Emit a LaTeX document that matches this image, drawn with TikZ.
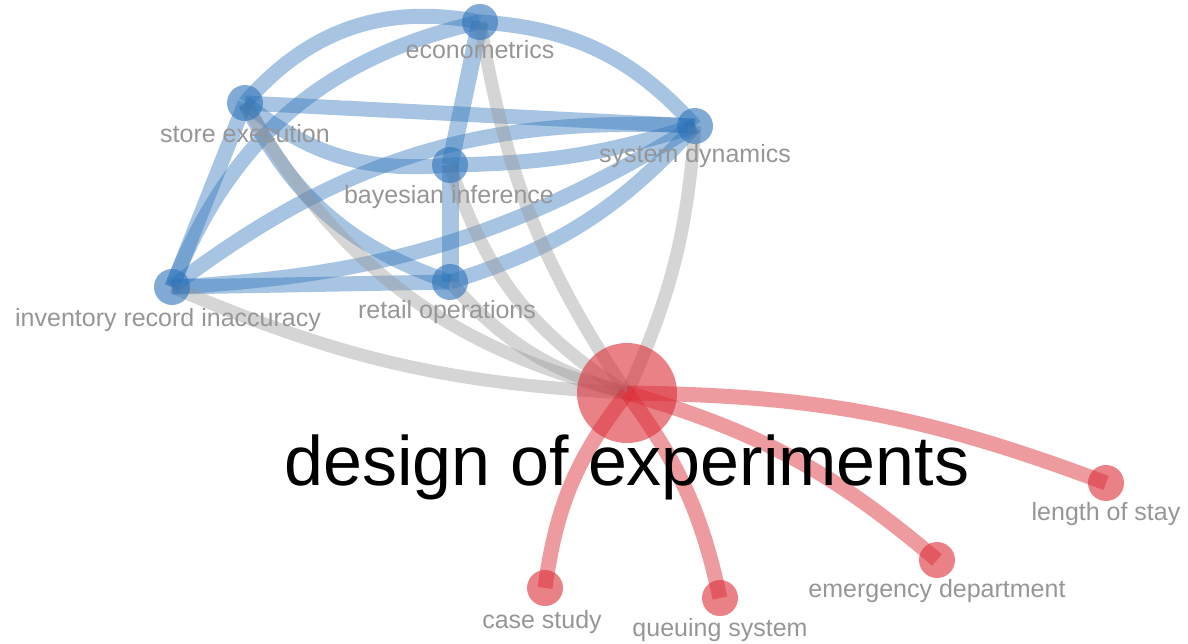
\documentclass[tikz,border=0pt]{standalone}
\usepackage{fontspec}
\setmainfont{Liberation Sans}
\usetikzlibrary{backgrounds}

\definecolor{vosblue}{RGB}{45,115,185}
\definecolor{vosred}{RGB}{220,45,55}
\definecolor{vosgray}{RGB}{150,150,150}
\definecolor{labgray}{RGB}{150,150,150}

\begin{document}
\begin{tikzpicture}[x=1pt,y=-1pt,
  term/.style={circle,fill=#1,fill opacity=0.6,inner sep=0pt,minimum size=36pt},
  hub/.style={circle,fill=vosred,fill opacity=0.6,inner sep=0pt,minimum size=100pt},
  lab/.style={text=labgray,font=\fontsize{25}{25}\selectfont,anchor=base},
  blink/.style={draw=vosblue,draw opacity=0.42,line width=15pt},
  glink/.style={draw=vosgray,draw opacity=0.4,line width=13pt},
  rlink/.style={draw=vosred,draw opacity=0.48,line width=15pt}]
\useasboundingbox (0,0) rectangle (1188,643);

% blue cluster
\node[term=vosblue] (eco) at (480,22) {};
\node[term=vosblue] (sto) at (245,103) {};
\node[term=vosblue] (sys) at (695,126) {};
\node[term=vosblue] (bay) at (450,165) {};
\node[term=vosblue] (inv) at (172,287) {};
\node[term=vosblue] (ret) at (450,282) {};
% red cluster
\node[hub] (doe) at (627,393) {};
\node[term=vosred] (los) at (1106,483) {};
\node[term=vosred] (emd) at (937,560) {};
\node[term=vosred] (cas) at (545,588) {};
\node[term=vosred] (que) at (720,598) {};

% labels
\node[lab] (eco-lab) at (480,58) {econometrics};
\node[lab] (sto-lab) at (245,142) {store execution};
\node[lab] (sys-lab) at (695,162) {system dynamics};
\node[lab] (bay-lab) at (449,203) {bayesian inference};
\node[lab] (inv-lab) at (168,326) {inventory record inaccuracy};
\node[lab] (ret-lab) at (447,318) {retail operations};
\node[lab] (los-lab) at (1106,520) {length of stay};
\node[lab] (emd-lab) at (937,597) {emergency department};
\node[lab] (cas-lab) at (542,628) {case study};
\node[lab] (que-lab) at (720,636) {queuing system};
\node[anchor=base,font=\fontsize{70}{70}\selectfont] (doe-lab) at (627,485) {design of experiments};

\begin{scope}[on background layer]
% links inside the blue cluster
\draw[blink] (sto.center) to[bend left=30] (eco.center);
\draw[blink] (inv.center) to[bend left=28] (eco.center);
\draw[blink] (eco.center) to[bend left=22] (sys.center);
\draw[blink,line width=17pt] (eco.center) -- (bay.center);
\draw[blink,line width=17pt] (bay.center) -- (ret.center);
\draw[blink] (sto.center) -- (sys.center);
\draw[blink] (sto.center) to[bend right=22] (bay.center);
\draw[blink] (bay.center) to[bend right=8] (sys.center);
\draw[blink] (sto.center) -- (inv.center);
\draw[blink] (sto.center) to[bend right=22] (ret.center);
\draw[blink] (inv.center) to[bend left=20] (sys.center);
\draw[blink] (inv.center) to[bend right=14] (sys.center);
\draw[blink] (inv.center) -- (ret.center);
\draw[blink] (ret.center) to[bend right=15] (sys.center);
% grey links into the hub
\draw[glink] (inv.center) to[bend right=10] (doe.center);
\draw[glink] (sto.center) to[bend right=23] (doe.center);
\draw[glink] (ret.center) to[bend right=16] (doe.center);
\draw[glink] (bay.center) to[bend right=20] (doe.center);
\draw[glink] (eco.center) to[bend right=12] (doe.center);
\draw[glink] (sys.center) to[bend left=10] (doe.center);
% red links
\draw[rlink] (doe.center) to[bend left=10] (los.center);
\draw[rlink] (doe.center) to[bend left=12] (emd.center);
\draw[rlink] (doe.center) to[bend left=12] (que.center);
\draw[rlink] (doe.center) to[bend right=15] (cas.center);
\end{scope}
\end{tikzpicture}
\end{document}
